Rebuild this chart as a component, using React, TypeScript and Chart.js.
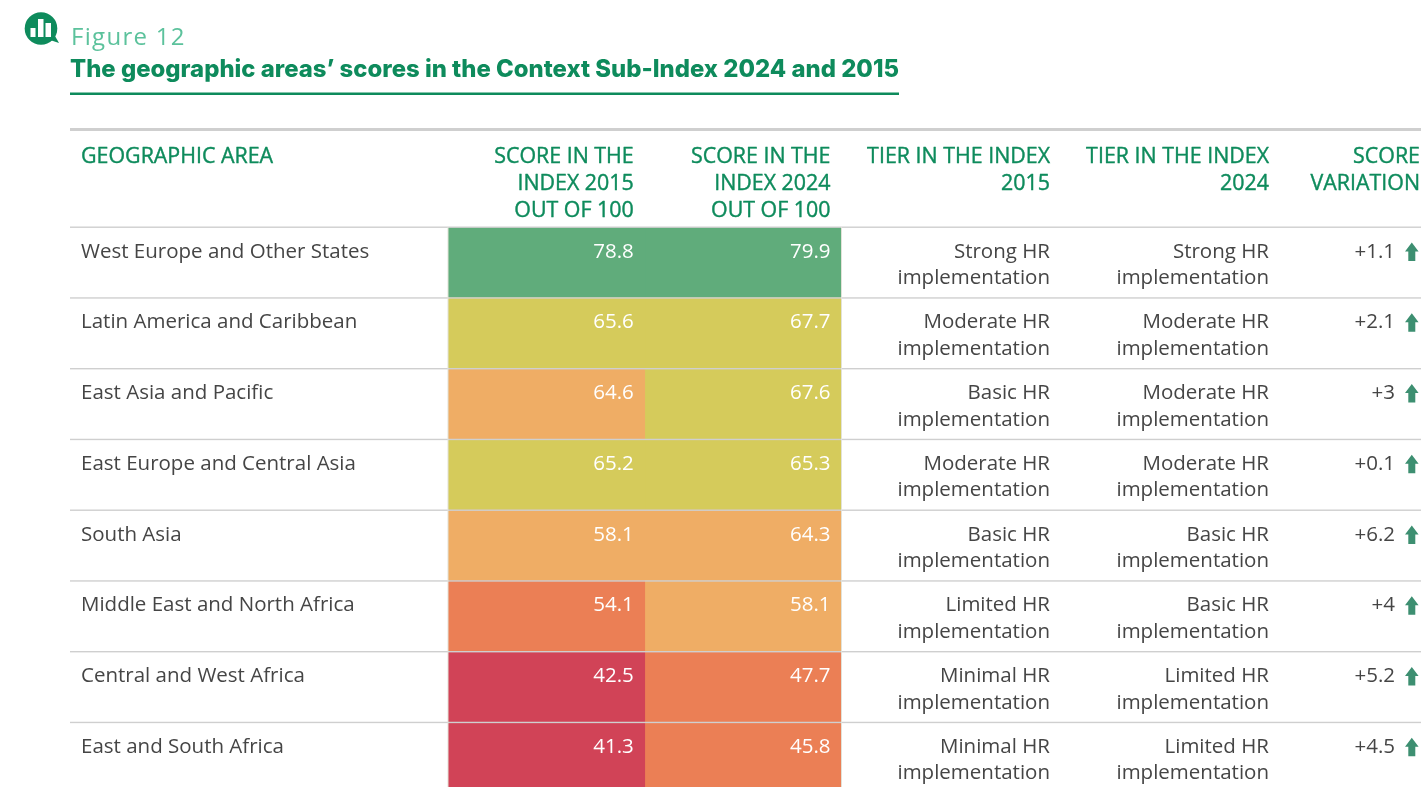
import React, { useEffect, useRef } from "react";
import { Chart, registerables } from "chart.js";

Chart.register(...registerables);

const FIGURE_LABEL = "Figure 12";
const TITLE = "The geographic areas’ scores in the Context Sub-Index 2024 and 2015";
const AREA_HEADER = "GEOGRAPHIC AREA";

const areas = [
  "West Europe and Other States",
  "Latin America and Caribbean",
  "East Asia and Pacific",
  "East Europe and Central Asia",
  "South Asia",
  "Middle East and North Africa",
  "Central and West Africa",
  "East and South Africa",
];
const scores2015 = [78.8, 65.6, 64.6, 65.2, 58.1, 54.1, 42.5, 41.3];
const scores2024 = [79.9, 67.7, 67.6, 65.3, 64.3, 58.1, 47.7, 45.8];
const tiers2015 = ["Strong", "Moderate", "Basic", "Moderate", "Basic", "Limited", "Minimal", "Minimal"];
const tiers2024 = ["Strong", "Moderate", "Moderate", "Moderate", "Basic", "Basic", "Limited", "Limited"];
const variations = ["+1.1", "+2.1", "+3", "+0.1", "+6.2", "+4", "+5.2", "+4.5"];

const tierColors: Record<string, string> = {
  Strong: "#60ac7b",
  Moderate: "#d5cb5b",
  Basic: "#efad65",
  Limited: "#eb7f55",
  Minimal: "#d14357",
};

const GREEN = "#0e8b5c";
const TEXT = "#454545";
const RULE = "#cfcfcf";
const BODY_FONT = '20.5px "Open Sans"';
const HEAD_FONT = '21.4px "Open Sans"';

const tablePlugin = {
  id: "tableText",
  afterDatasetsDraw(chart: any) {
    const { ctx, scales } = chart;
    const y = scales.y;
    const x = scales.x;
    const rowH = y.getPixelForValue(1) - y.getPixelForValue(0);
    const col2015Right = x.getPixelForValue(1) - 11;
    const col2024Right = x.getPixelForValue(2) - 11;
    const tableLeft = 70;
    const tableRight = chart.width;

    ctx.save();

    // logo
    ctx.fillStyle = GREEN;
    ctx.beginPath();
    ctx.arc(41, 28.5, 16.3, 0, Math.PI * 2);
    ctx.fill();
    ctx.beginPath();
    ctx.moveTo(50, 40);
    ctx.lineTo(55, 36);
    ctx.lineTo(59, 43);
    ctx.closePath();
    ctx.fill();
    ctx.fillStyle = "#ffffff";
    ctx.fillRect(30.5, 28, 5, 9);
    ctx.fillRect(38, 19, 5.5, 18);
    ctx.fillRect(45.5, 23, 5.5, 14);

    // title block
    ctx.textBaseline = "alphabetic";
    ctx.textAlign = "left";
    ctx.fillStyle = "#5cc29c";
    ctx.font = '24px "Open Sans"';
    ctx.letterSpacing = "1.3px";
    ctx.fillText(FIGURE_LABEL, 71, 45);
    ctx.letterSpacing = "0px";
    ctx.fillStyle = GREEN;
    ctx.font = '800 24px "Inter"';
    ctx.fillText(TITLE, 70, 77, 829);
    ctx.fillRect(70, 92.5, 829, 2.5);

    // rules
    ctx.fillStyle = RULE;
    ctx.fillRect(tableLeft, 128, tableRight - tableLeft, 3);
    for (let i = 0; i <= areas.length; i++) {
      const py = y.getPixelForValue(i) - rowH / 2;
      ctx.fillRect(tableLeft, py - 0.5, tableRight - tableLeft, 1.4);
    }
    ctx.fillStyle = "#e2e2d8";
    ctx.fillRect(x.left - 0.5, y.top, 1, y.bottom - y.top);
    ctx.fillRect(x.right - 0.5, y.top, 1, y.bottom - y.top);

    // header (regular weight with a thin stroke to reach a medium look)
    ctx.fillStyle = GREEN;
    ctx.strokeStyle = GREEN;
    ctx.lineWidth = 0.4;
    ctx.lineJoin = "round";
    ctx.font = HEAD_FONT;
    const headText = (s: string, px: number, py: number) => {
      ctx.fillText(s, px, py);
      ctx.strokeText(s, px, py);
    };
    ctx.textAlign = "left";
    headText(AREA_HEADER, 81, 162.5);
    ctx.textAlign = "right";
    const header = (lines: string[], right: number) =>
      lines.forEach((line, k) => headText(line, right, 162.5 + k * 27));
    header(["SCORE IN THE", "INDEX 2015", "OUT OF 100"], col2015Right);
    header(["SCORE IN THE", "INDEX 2024", "OUT OF 100"], col2024Right);
    header(["TIER IN THE INDEX", "2015"], 1050);
    header(["TIER IN THE INDEX", "2024"], 1269);
    header(["SCORE", "VARIATION"], 1420);

    // rows
    ctx.font = BODY_FONT;
    areas.forEach((area, i) => {
      const top = y.getPixelForValue(i) - rowH / 2;
      const b1 = top + 30.5;
      const b2 = top + 57;
      ctx.fillStyle = TEXT;
      ctx.textAlign = "left";
      ctx.fillText(area, 81, b1);
      ctx.textAlign = "right";
      ctx.fillText(`${tiers2015[i]} HR`, 1050, b1);
      ctx.fillText("implementation", 1050, b2);
      ctx.fillText(`${tiers2024[i]} HR`, 1269, b1);
      ctx.fillText("implementation", 1269, b2);
      ctx.fillText(variations[i], 1395, b1);

      ctx.fillStyle = "#ffffff";
      ctx.fillText(scores2015[i].toFixed(1), col2015Right, b1);
      ctx.fillText(scores2024[i].toFixed(1), col2024Right, b1);

      // up arrow
      const ax = 1411.8;
      const ay = top + 15.5;
      ctx.fillStyle = "#3d8f71";
      ctx.beginPath();
      ctx.moveTo(ax, ay);
      ctx.lineTo(ax + 6.8, ay + 9);
      ctx.lineTo(ax + 3.5, ay + 9);
      ctx.lineTo(ax + 3.5, ay + 18.5);
      ctx.lineTo(ax - 3.5, ay + 18.5);
      ctx.lineTo(ax - 3.5, ay + 9);
      ctx.lineTo(ax - 6.8, ay + 9);
      ctx.closePath();
      ctx.fill();
    });

    ctx.restore();
  },
};

export default function App() {
  const ref = useRef<HTMLCanvasElement | null>(null);

  useEffect(() => {
    document.body.style.margin = "0";
    document.body.style.background = "#ffffff";
    const chart = new Chart(ref.current as HTMLCanvasElement, {
      type: "bar",
      data: {
        labels: areas,
        datasets: [
          {
            label: "Score 2015",
            data: areas.map(() => [0, 1]) as any,
            backgroundColor: tiers2015.map((t) => tierColors[t]),
            barPercentage: 1,
            categoryPercentage: 1,
            grouped: false,
          },
          {
            label: "Score 2024",
            data: areas.map(() => [1, 2]) as any,
            backgroundColor: tiers2024.map((t) => tierColors[t]),
            barPercentage: 1,
            categoryPercentage: 1,
            grouped: false,
          },
        ],
      },
      options: {
        indexAxis: "y",
        responsive: false,
        animation: false,
        layout: { padding: { left: 448, right: 579.5, top: 227, bottom: 7 } },
        plugins: { legend: { display: false }, tooltip: { enabled: false } },
        scales: {
          x: { type: "linear", min: 0, max: 2, display: false },
          y: { type: "category", display: false, offset: true },
        },
      },
      plugins: [tablePlugin],
    });
    return () => chart.destroy();
  }, []);

  return (
    <div style={{ width: 1421, height: 787, overflow: "hidden", background: "#fff" }}>
      <canvas ref={ref} width={1421} height={800} style={{ display: "block" }} />
    </div>
  );
}
